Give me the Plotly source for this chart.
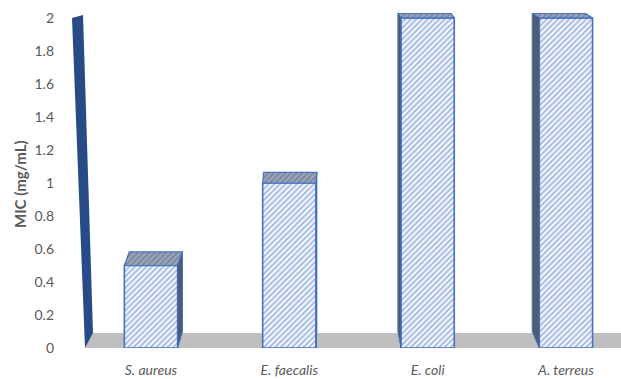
import plotly.graph_objects as go

# Minimum inhibitory concentration per organism
organisms = ["S. aureus", "E. faecalis", "E. coli", "A. terreus"]
mic_values = [0.5, 1.0, 2.0, 2.0]
y_ticks = [0, 0.2, 0.4, 0.6, 0.8, 1.0, 1.2, 1.4, 1.6, 1.8, 2.0]
y_tick_text = ["0", "0.2", "0.4", "0.6", "0.8", "1", "1.2", "1.4", "1.6", "1.8", "2"]

# Canvas geometry (pixels)
W_PX, H_PX = 621, 379
M_L, M_R, M_T, M_B = 72, 0, 13, 31
X_RANGE = [-0.571, 3.398]
Y_RANGE = [0, 2.03]
PLOT_W = W_PX - M_L - M_R
PLOT_H = H_PX - M_T - M_B
PX_X = PLOT_W / (X_RANGE[1] - X_RANGE[0])
PX_Y = PLOT_H / (Y_RANGE[1] - Y_RANGE[0])
BASE_PY = M_T + PLOT_H  # pixel row of y = 0

BAR_W = 0.385
BLUE = "#4472C4"
TEXT = "#595959"


def paper_x(px):
    return (px - M_L) / PLOT_W


def paper_y(py):
    return (BASE_PY - py) / PLOT_H


def depth_px(py):
    # receding depth of the 3-D box at a given screen row (perspective)
    return 0.0363 * (py + 65.6) + 1.5


def px_to_path(points):
    return "M " + " L ".join(f"{paper_x(x):.5f},{paper_y(y):.5f}" for x, y in points) + " Z"


fig = go.Figure()

# Front faces of the columns
fig.add_trace(go.Bar(
    x=list(range(len(organisms))),
    y=mic_values,
    width=BAR_W,
    marker=dict(
        color="white",
        line=dict(color=BLUE, width=1.6),
        pattern=dict(shape="/", fgcolor=BLUE, bgcolor="#F4F7FD", size=4, solidity=0.42),
    ),
    hoverinfo="skip",
    showlegend=False,
))

# Top and side faces derived from each column's value
for i, v in enumerate(mic_values):
    xl, xr = i - BAR_W / 2, i + BAR_W / 2
    top_py = BASE_PY - v * PX_Y
    dy_top = depth_px(top_py) / PX_Y
    dy_bot = depth_px(BASE_PY) / PX_Y
    cx_px = M_L + (i - X_RANGE[0]) * PX_X
    dx = -0.029 * (cx_px - 320) / PX_X

    top_x = [xl, xr, xr + dx, xl + dx, xl]
    top_y = [v, v, v + dy_top, v + dy_top, v]
    fig.add_trace(go.Scatter(
        x=top_x, y=top_y, mode="lines", fill="toself",
        fillcolor="#8E96A6",
        fillpattern=dict(shape="/", fgcolor="#4A64A0", bgcolor="#9EA4B0", size=4, solidity=0.4),
        line=dict(color=BLUE, width=1.2),
        hoverinfo="skip", showlegend=False,
    ))

    sx = xr if dx > 0 else xl
    side_x = [sx, sx, sx + dx, sx + dx, sx]
    side_y = [0, v, v + dy_top, dy_bot, 0]
    fig.add_trace(go.Scatter(
        x=side_x, y=side_y, mode="lines", fill="toself",
        fillcolor="#4A5468",
        fillpattern=dict(shape="/", fgcolor="#3A5A9A", bgcolor="#555B66", size=4, solidity=0.4),
        line=dict(color=BLUE, width=1),
        hoverinfo="skip", showlegend=False,
    ))

# Back wall and floor of the 3-D frame
wall = [(72, 18), (83, 15), (93, 333), (85, 348)]
floor = [(85, 348), (93, 333), (621, 333), (621, 348)]
shapes = [
    dict(type="path", path=px_to_path(floor), xref="paper", yref="paper",
         fillcolor="#BFBFBF", line=dict(width=0), layer="below"),
    dict(type="path", path=px_to_path(wall), xref="paper", yref="paper",
         fillcolor="#264B86", line=dict(width=0), layer="below"),
]

fig.update_layout(
    width=W_PX, height=H_PX,
    margin=dict(l=M_L, r=M_R, t=M_T, b=M_B),
    paper_bgcolor="white", plot_bgcolor="white",
    font=dict(family="Lato, 'Open Sans', sans-serif", color=TEXT),
    shapes=shapes,
    xaxis=dict(
        range=X_RANGE, tickvals=list(range(len(organisms))), ticktext=organisms,
        tickfont=dict(size=14, color=TEXT, style="italic"),
        showgrid=False, zeroline=False, showline=False, ticks="",
        ticklabelstandoff=12, automargin=False, fixedrange=True,
    ),
    yaxis=dict(
        range=Y_RANGE, tickvals=y_ticks, ticktext=y_tick_text,
        tickfont=dict(size=14, color=TEXT),
        showgrid=False, zeroline=False, showline=False, ticks="",
        ticklabelstandoff=17, automargin=False, fixedrange=True,
    ),
    annotations=[dict(
        text="<b>MIC (mg/mL)</b>", textangle=-90,
        xref="paper", yref="paper", x=paper_x(20), y=paper_y(184),
        xanchor="center", yanchor="middle", showarrow=False,
        font=dict(size=15, color=TEXT),
    )],
)

fig.write_html("out.html")
